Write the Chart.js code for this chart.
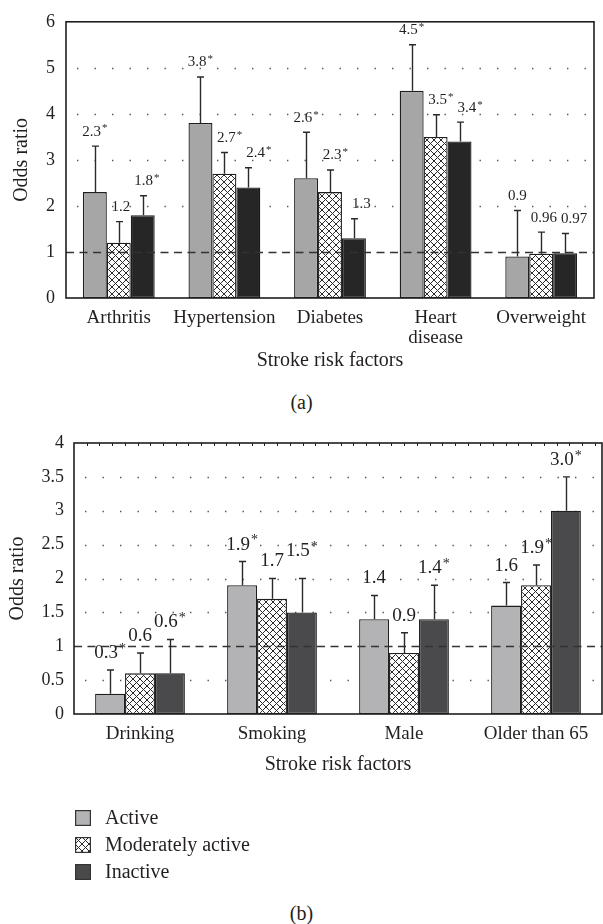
<!DOCTYPE html>
<html>
<head>
<meta charset="utf-8">
<script src="https://cdn.jsdelivr.net/npm/chart.js@4"></script>
<style>
  body { margin: 0; background: #fff; }
  #page { position: relative; width: 603px; height: 924px; overflow: hidden;
          font-family: 'Liberation Serif', 'Times New Roman', serif; color: #231f20; }
  #page > canvas { position: absolute; left: 0; }
  .cap { position: absolute; left: 0; width: 603px; text-align: center; font-size: 20px; line-height: 24px; }
  #legend { position: absolute; left: 75px; top: 804px; font-size: 20px; }
  .item { height: 27px; display: flex; align-items: center; }
  .item canvas { margin-right: 14px; }
</style>
</head>
<body>
<div id="page">
  <canvas id="chartA" width="603" height="380" style="top:0"></canvas>
  <div class="cap" style="top:390px">(a)</div>
  <canvas id="chartB" width="603" height="360" style="top:420px"></canvas>
  <div id="legend"></div>
  <div class="cap" style="top:901px">(b)</div>
</div>
<script>
(function () {
  // ---- panel (a) ----
  var CATS_A = ['Arthritis', 'Hypertension', 'Diabetes', ['Heart', 'disease'], 'Overweight'];
  var TICKS_A = ['0', '1', '2', '3', '4', '5', '6'];
  var ACTIVE_A = [2.3, 3.8, 2.6, 4.5, 0.9];
  var MODERATE_A = [1.2, 2.7, 2.3, 3.5, 0.96];
  var INACTIVE_A = [1.8, 2.4, 1.3, 3.4, 0.97];
  var ACTIVE_A_HI = [3.3, 4.8, 3.6, 5.5, 1.9];
  var MODERATE_A_HI = [1.66, 3.16, 2.78, 3.98, 1.43];
  var INACTIVE_A_HI = [2.22, 2.83, 1.72, 3.82, 1.4];
  var ACTIVE_A_TXT = ['2.3*', '3.8*', '2.6*', '4.5*', '0.9'];
  var MODERATE_A_TXT = ['1.2', '2.7*', '2.3*', '3.5*', '0.96'];
  var INACTIVE_A_TXT = ['1.8*', '2.4*', '1.3', '3.4*', '0.97'];

  // ---- panel (b) ----
  var CATS_B = ['Drinking', 'Smoking', 'Male', 'Older than 65'];
  var TICKS_B = ['0', '0.5', '1', '1.5', '2', '2.5', '3', '3.5', '4'];
  var ACTIVE_B = [0.3, 1.9, 1.4, 1.6];
  var MODERATE_B = [0.6, 1.7, 0.9, 1.9];
  var INACTIVE_B = [0.6, 1.5, 1.4, 3.0];
  var ACTIVE_B_HI = [0.65, 2.25, 1.75, 1.94];
  var MODERATE_B_HI = [0.9, 2.0, 1.2, 2.2];
  var INACTIVE_B_HI = [1.1, 2.0, 1.9, 3.5];
  var ACTIVE_B_TXT = ['0.3*', '1.9*', '1.4', '1.6'];
  var MODERATE_B_TXT = ['0.6', '1.7', '0.9', '1.9*'];
  var INACTIVE_B_TXT = ['0.6*', '1.5*', '1.4*', '3.0*'];

  var SERIES = ['Active', 'Moderately active', 'Inactive'];
  var REF_LINE = 1;

  var FONT = "'Liberation Serif', 'Times New Roman', serif";
  var INK = '#231f20';
  var EDGE = '#1e1e1e';

  Chart.defaults.font.family = FONT;
  Chart.defaults.color = INK;

  // white tile with a diagonal cross-hatch
  function makeHatch(ctx, sz) {
    var pc = document.createElement('canvas');
    pc.width = sz;
    pc.height = sz;
    var c = pc.getContext('2d');
    c.fillStyle = '#fff';
    c.fillRect(0, 0, sz, sz);
    c.strokeStyle = '#2a2a2a';
    c.lineWidth = 1;
    c.beginPath();
    c.moveTo(-1, -1); c.lineTo(sz + 1, sz + 1);
    c.moveTo(-1, sz + 1); c.lineTo(sz + 1, -1);
    c.stroke();
    return ctx.createPattern(pc, 'repeat');
  }

  // dotted grid, dashed reference line, frame, error bars and value labels
  var extrasPlugin = {
    id: 'extras',
    beforeDatasetsDraw: function (chart, args, o) {
      var a = chart.chartArea, ys = chart.scales.y, ctx = chart.ctx;
      ctx.save();
      ctx.strokeStyle = '#555';
      ctx.lineWidth = 1.5;
      ctx.setLineDash([1.4, o.dotGap - 1.4]);
      ctx.lineDashOffset = o.dotGap - 11;
      ys.ticks.forEach(function (t) {
        if (t.value <= ys.min || t.value >= ys.max || t.value === REF_LINE) { return; }
        var y = Math.round(ys.getPixelForValue(t.value)) + 0.5;
        ctx.beginPath();
        ctx.moveTo(a.left, y);
        ctx.lineTo(a.right, y);
        ctx.stroke();
      });
      ctx.restore();
    },
    afterDatasetsDraw: function (chart, args, o) {
      var a = chart.chartArea, ys = chart.scales.y, ctx = chart.ctx;
      var sets = chart.data.datasets;
      ctx.save();

      // reference line at odds ratio 1
      var yr = Math.round(ys.getPixelForValue(REF_LINE)) + 0.5;
      ctx.strokeStyle = '#333';
      ctx.lineWidth = 1.4;
      ctx.setLineDash([8, 5.5]);
      ctx.beginPath();
      ctx.moveTo(a.left, yr);
      ctx.lineTo(a.right, yr);
      ctx.stroke();
      ctx.setLineDash([]);

      // error bars
      ctx.strokeStyle = '#2a2a2a';
      ctx.lineWidth = 1.4;
      sets.forEach(function (ds, i) {
        chart.getDatasetMeta(i).data.forEach(function (bar, j) {
          var x = Math.round(bar.x) + 0.5;
          var yh = ys.getPixelForValue(ds.errHi[j]);
          ctx.beginPath();
          ctx.moveTo(x, bar.y);
          ctx.lineTo(x, yh);
          ctx.moveTo(x - o.capHalf, yh);
          ctx.lineTo(x + o.capHalf, yh);
          ctx.stroke();
        });
      });

      // value labels, asterisk raised; neighbours in a group are nudged apart
      ctx.fillStyle = INK;
      ctx.textBaseline = 'middle';
      ctx.textAlign = 'left';
      var n = chart.data.labels.length;
      for (var j = 0; j < n; j++) {
        var prev = null;
        for (var i = 0; i < sets.length; i++) {
          var bar = chart.getDatasetMeta(i).data[j];
          var txt = sets[i].valueText[j];
          var star = txt.charAt(txt.length - 1) === '*';
          var num = star ? txt.slice(0, -1) : txt;
          ctx.font = o.labelSize + 'px ' + FONT;
          var wn = ctx.measureText(num).width;
          ctx.font = o.starSize + 'px ' + FONT;
          var ws = star ? ctx.measureText('*').width + 1 : 0;
          var x0 = bar.x - (wn + ws) / 2;
          var y = ys.getPixelForValue(sets[i].errHi[j]) - o.labelLift;
          if (prev && x0 < prev.right + 4) {
            if (o.nudge === 'x') {
              x0 = prev.right + 4;
            } else if (Math.abs(y - prev.y) < o.labelSize * 0.6) {
              y = prev.y - o.labelSize * 0.55;
            }
          }
          ctx.font = o.labelSize + 'px ' + FONT;
          ctx.fillText(num, x0, y);
          if (star) {
            ctx.font = o.starSize + 'px ' + FONT;
            ctx.fillText('*', x0 + wn + 1, y - o.starRaise);
          }
          prev = { right: x0 + wn + ws, y: y };
        }
      }

      // frame
      ctx.strokeStyle = EDGE;
      ctx.lineWidth = 1.6;
      ctx.strokeRect(a.left, a.top, a.right - a.left, a.bottom - a.top);

      // small ticks under the top edge
      if (o.topTicks) {
        ctx.lineWidth = 1;
        ctx.beginPath();
        for (var x = a.left + o.topTicks; x < a.right - 2; x += o.topTicks) {
          ctx.moveTo(Math.round(x) + 0.5, a.top);
          ctx.lineTo(Math.round(x) + 0.5, a.top + 3);
        }
        ctx.stroke();
      }
      ctx.restore();
    }
  };

  function build(id, p) {
    var canvas = document.getElementById(id);
    var ctx = canvas.getContext('2d');
    var hatch = makeHatch(ctx, 7);
    var fills = [p.light, hatch, p.dark];
    var vals = [p.active, p.moderate, p.inactive];
    var his = [p.activeHi, p.moderateHi, p.inactiveHi];
    var txts = [p.activeTxt, p.moderateTxt, p.inactiveTxt];

    return new Chart(ctx, {
      type: 'bar',
      plugins: [extrasPlugin],
      data: {
        labels: p.cats,
        datasets: SERIES.map(function (name, k) {
          return {
            label: name,
            data: vals[k],
            errHi: his[k],
            valueText: txts[k],
            backgroundColor: fills[k],
            borderColor: EDGE,
            borderWidth: 1.3,
            borderSkipped: false,
            categoryPercentage: p.groupPct,
            barPercentage: 1
          };
        })
      },
      options: {
        responsive: false,
        animation: false,
        events: [],
        layout: { padding: p.pad },
        plugins: {
          legend: { display: false },
          tooltip: { enabled: false },
          extras: {
            dotGap: 17.5,
            capHalf: 3.5,
            labelSize: p.labelSize,
            starSize: p.starSize,
            starRaise: p.starRaise,
            labelLift: p.labelLift,
            nudge: p.nudge,
            topTicks: p.topTicks
          }
        },
        scales: {
          x: {
            grid: { display: false, drawTicks: false },
            border: { display: false },
            ticks: {
              autoSkip: false, maxRotation: 0, padding: 10, color: INK,
              font: { size: 19, lineHeight: 1.05 }
            },
            title: {
              display: true, text: 'Stroke risk factors', color: INK,
              font: { size: 20 }, padding: { top: 0, bottom: p.xTitlePad }
            },
            afterFit: function (s) { s.height = p.xH; }
          },
          y: {
            min: 0,
            max: p.yMax,
            grid: { display: false, drawTicks: false },
            border: { display: false },
            ticks: {
              stepSize: p.yStep, padding: p.yTickPad, color: INK,
              font: { size: 18 },
              callback: function (v, i) { return p.ticks[i]; }
            },
            title: {
              display: true, text: 'Odds ratio', color: INK,
              font: { size: 20 }, padding: { top: p.yTitlePad, bottom: 0 }
            },
            afterFit: function (s) { s.width = p.yW; }
          }
        }
      }
    });
  }

  build('chartA', {
    cats: CATS_A, ticks: TICKS_A, yMax: 6, yStep: 1,
    active: ACTIVE_A, moderate: MODERATE_A, inactive: INACTIVE_A,
    activeHi: ACTIVE_A_HI, moderateHi: MODERATE_A_HI, inactiveHi: INACTIVE_A_HI,
    activeTxt: ACTIVE_A_TXT, moderateTxt: MODERATE_A_TXT, inactiveTxt: INACTIVE_A_TXT,
    light: '#a6a6a6', dark: '#262626', groupPct: 0.68,
    pad: { top: 13, right: 9, left: 0, bottom: 0 },
    yW: 66, xH: 82, yTickPad: 11, yTitlePad: 10, xTitlePad: 7,
    labelSize: 15, starSize: 11, starRaise: 3, labelLift: 14.5, nudge: 'x', topTicks: 0
  });

  build('chartB', {
    cats: CATS_B, ticks: TICKS_B, yMax: 4, yStep: 0.5,
    active: ACTIVE_B, moderate: MODERATE_B, inactive: INACTIVE_B,
    activeHi: ACTIVE_B_HI, moderateHi: MODERATE_B_HI, inactiveHi: INACTIVE_B_HI,
    activeTxt: ACTIVE_B_TXT, moderateTxt: MODERATE_B_TXT, inactiveTxt: INACTIVE_B_TXT,
    light: '#b3b3b5', dark: '#4a4a4c', groupPct: 0.68,
    pad: { top: 23, right: 1, left: 0, bottom: 0 },
    yW: 74, xH: 66, yTickPad: 10, yTitlePad: 6, xTitlePad: 3,
    labelSize: 19, starSize: 14, starRaise: 4, labelLift: 17, nudge: 'y', topTicks: 12.7
  });

  // legend (uses panel b colours)
  var legendEl = document.getElementById('legend');
  var swatchFills = ['#b3b3b5', null, '#4a4a4c'];
  SERIES.forEach(function (name, k) {
    var row = document.createElement('div');
    row.className = 'item';
    var sw = document.createElement('canvas');
    sw.width = 16;
    sw.height = 16;
    var c = sw.getContext('2d');
    c.fillStyle = swatchFills[k] || makeHatch(c, 7);
    c.fillRect(0, 0, 16, 16);
    c.strokeStyle = '#333';
    c.lineWidth = 1.2;
    c.strokeRect(0.6, 0.6, 14.8, 14.8);
    row.appendChild(sw);
    row.appendChild(document.createTextNode(name));
    legendEl.appendChild(row);
  });
})();
</script>
</body>
</html>
